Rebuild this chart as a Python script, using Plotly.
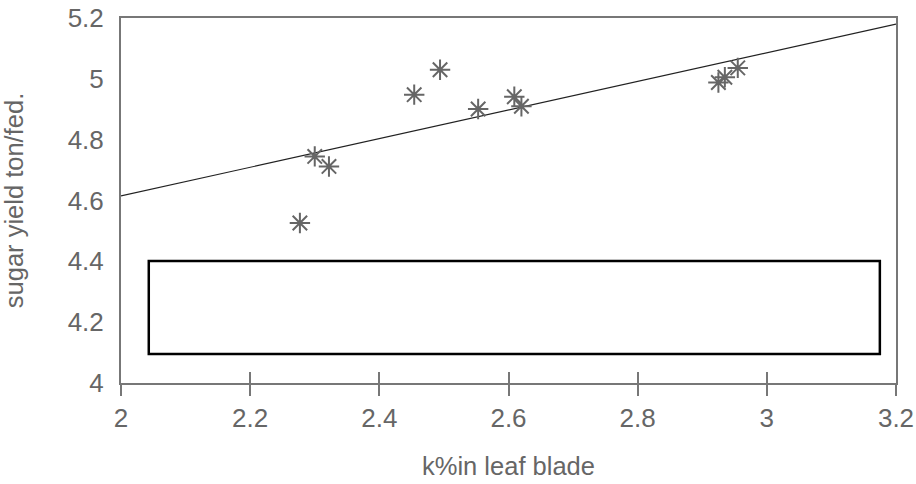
import plotly.graph_objects as go

# Observed points (k% in leaf blade vs sugar yield ton/fed.)
k_percent = [2.277, 2.300, 2.322, 2.454, 2.494, 2.553, 2.609, 2.620, 2.925, 2.935, 2.955]
sugar_yield = [4.526, 4.745, 4.712, 4.948, 5.030, 4.901, 4.941, 4.910, 4.988, 5.005, 5.036]

# Trend line endpoints
trend_x = [2.0, 3.2]
trend_y = [4.615, 5.180]

# Empty box (legend frame) bounds in data units
box_x = [2.043, 3.175]
box_y = [4.095, 4.401]

x_ticks = [2, 2.2, 2.4, 2.6, 2.8, 3, 3.2]
x_tick_text = ["2", "2.2", "2.4", "2.6", "2.8", "3", "3.2"]
y_ticks = [4, 4.2, 4.4, 4.6, 4.8, 5, 5.2]
y_tick_text = ["4", "4.2", "4.4", "4.6", "4.8", "5", "5.2"]

gray = "#666666"
font_family = "Liberation Sans, Arial, sans-serif"

fig = go.Figure()

fig.add_trace(go.Scatter(
    x=trend_x, y=trend_y, mode="lines",
    line=dict(color="#222222", width=1.2),
    hoverinfo="skip", showlegend=False,
))

fig.add_trace(go.Scatter(
    x=k_percent, y=sugar_yield, mode="markers",
    marker=dict(symbol="asterisk-open", size=17,
                line=dict(color=gray, width=2), color=gray),
    showlegend=False,
))

fig.add_shape(type="rect", xref="x", yref="y",
              x0=box_x[0], x1=box_x[1], y0=box_y[0], y1=box_y[1],
              line=dict(color="black", width=2.5), fillcolor="rgba(0,0,0,0)")

# invisible trace on xaxis2 to show inner halves of the crossing ticks
fig.add_trace(go.Scatter(x=[None], y=[None], xaxis="x2", yaxis="y",
                         showlegend=False, hoverinfo="skip"))

fig.update_layout(
    width=916, height=484,
    margin=dict(l=121, r=20, t=18, b=101),
    paper_bgcolor="white", plot_bgcolor="white",
    font=dict(family=font_family, color=gray, size=25),
    xaxis=dict(
        range=[2, 3.2], tickvals=x_ticks, ticktext=x_tick_text,
        automargin=False, ticklabeloverflow="allow",
        showgrid=False, zeroline=False,
        showline=True, mirror=True, linecolor="#777777", linewidth=2,
        ticks="outside", ticklen=11, tickwidth=1.5, tickcolor="#777777",
        ticklabelstandoff=0,
        tickfont=dict(size=26, color=gray),
        title=dict(text="k%in leaf blade", font=dict(size=25.5, color=gray), standoff=25),
    ),
    xaxis2=dict(
        range=[2, 3.2], tickvals=x_ticks, overlaying="x", side="bottom",
        showticklabels=False, showgrid=False, zeroline=False, showline=False,
        automargin=False,
        ticks="inside", ticklen=11, tickwidth=1.5, tickcolor="#777777",
    ),
    yaxis=dict(
        range=[4, 5.2], tickvals=y_ticks, ticktext=y_tick_text,
        automargin=False, ticklabeloverflow="allow",
        showgrid=False, zeroline=False,
        showline=True, mirror=True, linecolor="#777777", linewidth=2,
        ticks="", ticklabelstandoff=10,
        tickfont=dict(size=26, color=gray),
        title=dict(text="sugar yield ton/fed.", font=dict(size=25.5, color=gray), standoff=40),
    ),
)

# remove the default 8px page margin so the figure fills the window exactly
fig.write_html("out.html", config={"displayModeBar": False},
               post_script="document.body.style.margin='0';")
